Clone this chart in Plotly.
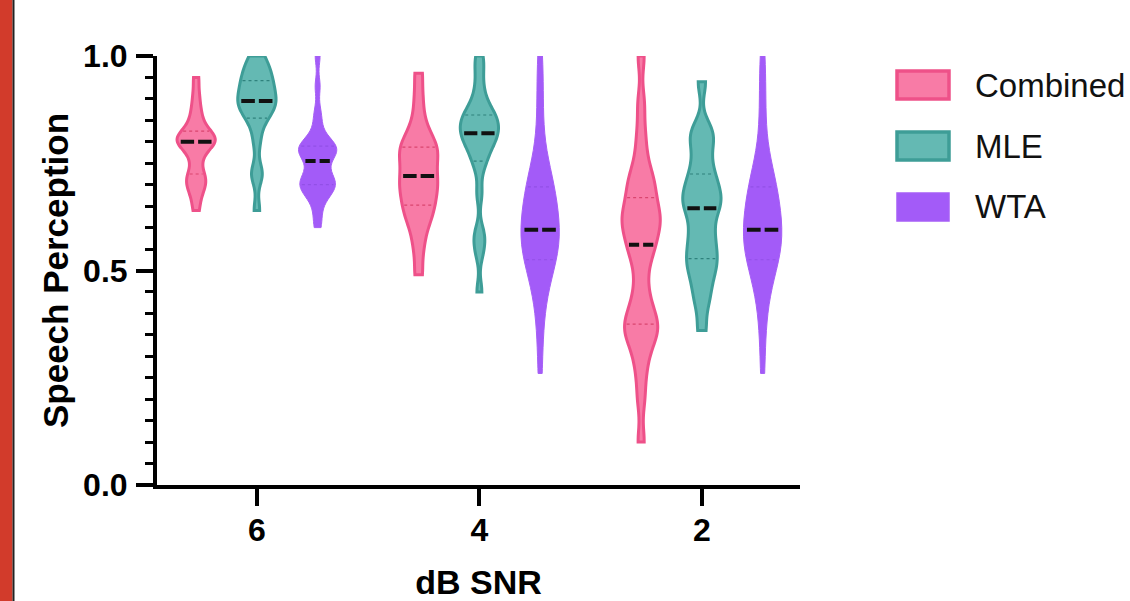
import numpy as np
import plotly.graph_objects as go

# ---------------- data ----------------
snr_labels = ["6", "4", "2"]
methods = ["Combined", "MLE", "WTA"]

combined_6 = [0.64, 0.67, 0.69, 0.70, 0.71, 0.72, 0.73, 0.76, 0.77, 0.79, 0.80, 0.80,
              0.80, 0.80, 0.81, 0.81, 0.82, 0.83, 0.84, 0.86, 0.88, 0.91, 0.95]
mle_6 = [0.64, 0.72, 0.73, 0.80, 0.84, 0.86, 0.87, 0.88, 0.89, 0.89, 0.90, 0.91,
         0.92, 0.93, 0.94, 0.95, 0.96, 0.97, 0.99, 1.00]
wta_6 = [0.60, 0.63, 0.66, 0.68, 0.68, 0.69, 0.70, 0.70, 0.71, 0.71, 0.72, 0.73, 0.75,
         0.76, 0.77, 0.78, 0.78, 0.78, 0.79, 0.79, 0.80, 0.81, 0.84, 0.87, 0.93, 1.00]

combined_4 = [0.49, 0.55, 0.59, 0.62, 0.63, 0.65, 0.66, 0.68, 0.69, 0.70, 0.72, 0.72,
              0.74, 0.76, 0.77, 0.78, 0.79, 0.80, 0.82, 0.85, 0.90, 0.96]
mle_4 = [0.45, 0.54, 0.57, 0.59, 0.68, 0.74, 0.76, 0.78, 0.79, 0.80, 0.81, 0.82,
         0.82, 0.83, 0.84, 0.85, 0.85, 0.86, 0.87, 0.88, 0.90, 0.93, 0.97, 1.00]
wta_4 = [0.26, 0.35, 0.41, 0.45, 0.48, 0.50, 0.52, 0.52, 0.54, 0.55, 0.56, 0.57,
         0.58, 0.59, 0.59, 0.60, 0.62, 0.63, 0.65, 0.66, 0.67, 0.68, 0.70, 0.71,
         0.72, 0.75, 0.79, 0.86, 0.93, 1.00]

combined_2 = [0.10, 0.20, 0.26, 0.30, 0.33, 0.35, 0.36, 0.37, 0.38, 0.40, 0.42, 0.45,
              0.49, 0.53, 0.55, 0.56, 0.58, 0.60, 0.61, 0.62, 0.63, 0.64, 0.66, 0.68,
              0.70, 0.71, 0.73, 0.77, 0.82, 0.89, 1.00]
mle_2 = [0.36, 0.42, 0.45, 0.48, 0.50, 0.52, 0.53, 0.55, 0.57, 0.59, 0.61, 0.64,
         0.65, 0.66, 0.67, 0.69, 0.70, 0.72, 0.74, 0.77, 0.80, 0.82, 0.83, 0.94]
wta_2 = [0.26, 0.35, 0.41, 0.45, 0.48, 0.50, 0.52, 0.52, 0.54, 0.55, 0.56, 0.57,
         0.58, 0.59, 0.59, 0.60, 0.62, 0.63, 0.65, 0.66, 0.67, 0.68, 0.70, 0.71,
         0.72, 0.75, 0.79, 0.86, 0.93, 1.00]

y_tick_values = [0.0, 0.5, 1.0]
y_tick_labels = ["0.0", "0.5", "1.0"]

samples = {
    ("6", "Combined"): combined_6, ("6", "MLE"): mle_6, ("6", "WTA"): wta_6,
    ("4", "Combined"): combined_4, ("4", "MLE"): mle_4, ("4", "WTA"): wta_4,
    ("2", "Combined"): combined_2, ("2", "MLE"): mle_2, ("2", "WTA"): wta_2,
}
bandwidths = {
    ("6", "Combined"): 0.02, ("6", "MLE"): 0.025, ("6", "WTA"): 0.022,
    ("4", "Combined"): 0.03, ("4", "MLE"): 0.025, ("4", "WTA"): 0.06,
    ("2", "Combined"): 0.035, ("2", "MLE"): 0.03, ("2", "WTA"): 0.06,
}

# ---------------- style ----------------
W, H = 1130, 601
M_L, M_R, M_T, M_B = 157, 330, 56, 116
plot_w = W - M_L - M_R
plot_h = H - M_T - M_B
x_range = [-0.449, 2.441]
px_per_x = plot_w / (x_range[1] - x_range[0])

fill_colors = {"Combined": "#F87BA6", "MLE": "#64B9B3", "WTA": "#A35BF8"}
line_colors = {"Combined": "#EE5189", "MLE": "#3E9D97", "WTA": "#A75FF6"}
line_widths = {"Combined": 3, "MLE": 3, "WTA": 1}
quart_colors = {"Combined": "#D9466F", "MLE": "#2F827D", "WTA": "#9250E6"}
offsets = [-0.273, 0.0, 0.273]
violin_width = 0.172
FONT = "Liberation Sans, Arial, Helvetica, sans-serif"


def kde(vals, bw, grid):
    s = np.asarray(vals, dtype=float)
    return np.exp(-0.5 * ((np.asarray(grid)[:, None] - s[None, :]) / bw) ** 2).sum(axis=1)


def half_width(vals, bw, y):
    grid = np.linspace(min(vals), max(vals), 400)
    dmax = kde(vals, bw, grid).max()
    return (violin_width / 2) * kde(vals, bw, [y])[0] / dmax


fig = go.Figure()

for gi, snr in enumerate(snr_labels):
    for mi, m in enumerate(methods):
        vals = samples[(snr, m)]
        bw = bandwidths[(snr, m)]
        xc = gi + offsets[mi]
        fig.add_trace(go.Violin(
            y=vals, x0=xc, name=m, legendgroup=m, showlegend=False,
            bandwidth=bw, spanmode="hard", scalemode="width", width=violin_width,
            fillcolor=fill_colors[m], line=dict(color=line_colors[m], width=line_widths[m]),
            points=False, box_visible=False, meanline_visible=False,
            hoverinfo="skip", opacity=1,
        ))
        # quartile lines (dotted)
        for q in np.percentile(vals, [25, 75]):
            hw = half_width(vals, bw, q) - 2.0 / px_per_x
            if hw > 0:
                fig.add_trace(go.Scatter(
                    x=[xc - hw, xc + hw], y=[q, q], mode="lines", showlegend=False,
                    line=dict(color=quart_colors[m], width=1.2, dash="dot"), hoverinfo="skip"))
        # median line (dashed, black)
        med = float(np.median(vals))
        hw = 0.82 * half_width(vals, bw, med)
        L = 2 * hw * px_per_x
        gap = 4
        dash = f"{max((L - gap) / 2, 1):.1f}px,{gap}px"
        fig.add_trace(go.Scatter(
            x=[xc - hw, xc + hw], y=[med, med], mode="lines", showlegend=False,
            line=dict(color="#111111", width=4, dash=dash), hoverinfo="skip"))


def px_x(px):
    return (px - M_L) / plot_w


def px_y(py):
    return (H - M_B - py) / plot_h


shapes = [
    # left red strip and dark edge
    dict(type="rect", xref="paper", yref="paper", x0=px_x(0), x1=px_x(12.5),
         y0=px_y(H), y1=px_y(0), fillcolor="#D23B2B", line=dict(width=0), layer="above"),
    dict(type="rect", xref="paper", yref="paper", x0=px_x(12.5), x1=px_x(14.5),
         y0=px_y(H), y1=px_y(0), fillcolor="#222222", line=dict(width=0), layer="above"),
]
annotations = []
legend_rows = [85, 146, 207]
for m, yc in zip(methods, legend_rows):
    shapes.append(dict(type="rect", xref="paper", yref="paper",
                       x0=px_x(897), x1=px_x(949), y0=px_y(yc + 14), y1=px_y(yc - 14),
                       fillcolor=fill_colors[m],
                       line=dict(color=line_colors[m], width=line_widths[m] + 0.5)))
    annotations.append(dict(xref="paper", yref="paper", x=px_x(973), y=px_y(yc),
                            xanchor="left", yanchor="middle", text=m, showarrow=False,
                            font=dict(family=FONT, size=33, color="#111111")))

fig.update_layout(
    width=W, height=H,
    margin=dict(l=M_L, r=M_R, t=M_T, b=M_B, autoexpand=False),
    paper_bgcolor="white", plot_bgcolor="white",
    violinmode="overlay",
    hovermode=False,
    shapes=shapes, annotations=annotations,
    xaxis=dict(
        range=x_range, tickvals=list(range(len(snr_labels))), ticktext=snr_labels,
        showgrid=False, zeroline=False, showline=True, linecolor="black", linewidth=4,
        ticks="outside", ticklen=17, tickwidth=3.5, tickcolor="black",
        ticklabelstandoff=-3, automargin=False,
        tickfont=dict(family=FONT, size=32, color="black", weight="bold"),
        title=dict(text="dB SNR", standoff=25,
                   font=dict(family=FONT, size=34, color="black", weight="bold")),
    ),
    yaxis=dict(
        range=[0, 1.0], tickvals=y_tick_values, ticktext=y_tick_labels,
        showgrid=False, zeroline=False, showline=True, linecolor="black", linewidth=4,
        ticks="outside", ticklen=17, tickwidth=3.5, tickcolor="black",
        ticklabelstandoff=2, automargin=False,
        tickfont=dict(family=FONT, size=32, color="black", weight="bold"),
        minor=dict(dtick=0.05, ticks="outside", ticklen=8, tickwidth=3, tickcolor="black"),
        title=dict(text="Speech Perception", standoff=5,
                   font=dict(family=FONT, size=35, color="black", weight="bold")),
    ),
)

fig.write_html("out.html", config={"displayModeBar": False},
               post_script="document.body.style.margin='0';")
